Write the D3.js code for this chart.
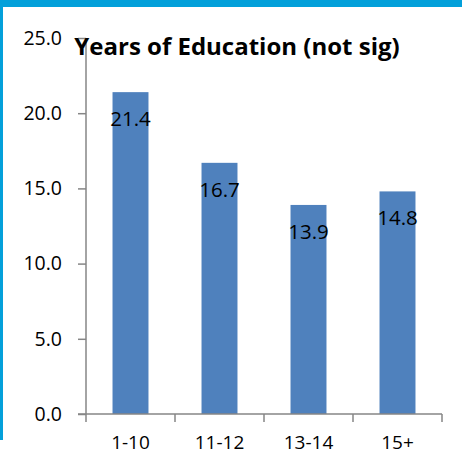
<!DOCTYPE html>
<html lang="en">
<head>
    <meta charset="UTF-8">
    <title>Years of Education</title>
    <style>
        body { margin: 0; background: #fff; }
        svg { display: block; font-family: 'Open Sans', sans-serif; }
    </style>
</head>
<body>
    <script src="https://d3js.org/d3.v7.min.js"></script>
    <script>
        const categories = ['1-10', '11-12', '13-14', '15+']
        const values = [21.4, 16.7, 13.9, 14.8]
        const yTicks = [0, 5, 10, 15, 20, 25]
        const title = 'Years of Education (not sig)'

        const width = 462
        const height = 456
        const margin = { top: 38, right: 20, bottom: 42, left: 86 }
        const pad = 0.596

        const svg = d3.select('body')
            .append('svg')
            .attr('width', width)
            .attr('height', height)

        // blue frame pieces
        svg.append('rect').attr('x', 0).attr('y', 0).attr('width', width).attr('height', 7).attr('fill', '#03a0da')
        svg.append('rect').attr('x', 0).attr('y', 0).attr('width', 3).attr('height', 440).attr('fill', '#03a0da')

        const x = d3.scaleBand()
            .domain(categories)
            .range([margin.left, width - margin.right])
            .paddingInner(pad)
            .paddingOuter(pad / 2)

        const y = d3.scaleLinear()
            .domain([0, 25])
            .range([height - margin.bottom, margin.top])

        const axisColor = '#868686'

        // y axis
        const yAxis = svg.append('g')
            .attr('transform', `translate(${margin.left},0)`)
            .call(d3.axisLeft(y).tickValues(yTicks).tickFormat(d3.format('.1f')).tickSize(8).tickPadding(16))
        yAxis.selectAll('line, path').attr('stroke', axisColor).attr('stroke-width', 1.5)
        yAxis.select('.domain').attr('d', `M0,${y(25)}V${y(0)}`)
        yAxis.selectAll('text')
            .attr('font-family', "'Open Sans', sans-serif")
            .attr('font-size', 19.5)
            .attr('fill', '#000')

        // bars
        svg.append('g')
            .selectAll('rect')
            .data(values)
            .join('rect')
            .attr('x', (d, i) => x(categories[i]))
            .attr('y', d => y(d))
            .attr('width', x.bandwidth())
            .attr('height', d => y(0) - y(d))
            .attr('fill', '#4f81bd')

        // value labels
        svg.append('g')
            .selectAll('text')
            .data(values)
            .join('text')
            .attr('x', (d, i) => x(categories[i]) + x.bandwidth() / 2)
            .attr('y', d => y(d) + 34)
            .attr('text-anchor', 'middle')
            .attr('font-size', 20.5)
            .attr('fill', '#000')
            .text(d => d3.format('.1f')(d))

        // x axis with ticks between categories
        const step = x.step()
        const x0 = margin.left
        const xAxis = svg.append('g')
        xAxis.append('line')
            .attr('x1', x0 - 8).attr('x2', width - margin.right)
            .attr('y1', y(0)).attr('y2', y(0))
            .attr('stroke', axisColor).attr('stroke-width', 1.5)
        xAxis.selectAll('.tick')
            .data(d3.range(categories.length + 1))
            .join('line')
            .attr('class', 'tick')
            .attr('x1', i => x0 + i * step).attr('x2', i => x0 + i * step)
            .attr('y1', y(0)).attr('y2', y(0) + 8)
            .attr('stroke', axisColor).attr('stroke-width', 1.5)
        xAxis.selectAll('text')
            .data(categories)
            .join('text')
            .attr('x', d => x(d) + x.bandwidth() / 2)
            .attr('y', y(0) + 35)
            .attr('text-anchor', 'middle')
            .attr('font-size', 19)
            .attr('fill', '#000')
            .text(d => d)

        // title
        svg.append('text')
            .attr('x', 237)
            .attr('y', 55)
            .attr('text-anchor', 'middle')
            .attr('font-size', 24)
            .attr('font-weight', 'bold')
            .attr('fill', '#000')
            .text(title)
    </script>
</body>
</html>
